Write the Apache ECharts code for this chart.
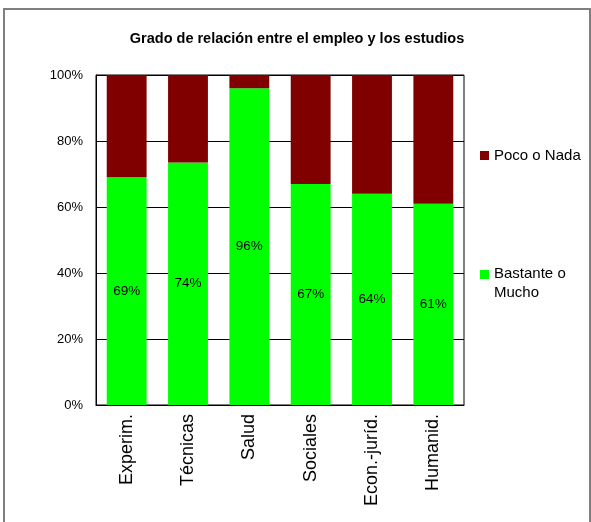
<!DOCTYPE html>
<html>
<head>
<meta charset="utf-8">
<script src="https://cdn.jsdelivr.net/npm/echarts@6/dist/echarts.min.js"></script>
<style>html,body{margin:0;padding:0;background:#fff}#c{width:591px;height:522px}</style>
</head>
<body>
<div id="c"></div>
<script>
var categories = ['Experim.', 'Técnicas', 'Salud', 'Sociales', 'Econ.-juríd.', 'Humanid.'];
var bastante = [69, 73.5, 96, 67, 64, 61];
var poco = [31, 26.5, 4, 33, 36, 39];
var yTicks = [0, 20, 40, 60, 80, 100];
var titleText = 'Grado de relación entre el empleo y los estudios';

var font = '"Liberation Sans", Arial, sans-serif';
var chart = echarts.init(document.getElementById('c'), null, {renderer: 'canvas'});
chart.setOption({
  animation: false,
  backgroundColor: '#fff',
  textStyle: {fontFamily: font},
  title: {
    text: titleText, left: 297, top: 31, textAlign: 'center', padding: 0,
    textStyle: {fontFamily: font, fontSize: 14.5, fontWeight: 'bold', color: '#000'}
  },
  graphic: [{
    type: 'rect', shape: {x: 4, y: 9, width: 586, height: 520},
    style: {fill: 'none', stroke: '#7f7f7f', lineWidth: 2}, silent: true, z: -1
  }],
  legend: [{
    data: ['Poco o Nada'], orient: 'vertical', left: 480, top: 148, padding: 0,
    itemWidth: 9, itemHeight: 9, icon: 'rect',
    textStyle: {fontFamily: font, fontSize: 15, color: '#000'}
  }, {
    data: ['Bastante o Mucho'], orient: 'vertical', left: 480, top: 264.5, padding: 0,
    itemWidth: 9, itemHeight: 27, icon: 'path://M0,0h10v10h-10z M0,30h10',
    formatter: function () { return 'Bastante o\nMucho'; },
    textStyle: {fontFamily: font, fontSize: 15, lineHeight: 19, color: '#000'}
  }],
  grid: {left: 96, top: 75, width: 368, height: 330, show: true, borderColor: '#000', borderWidth: 1, containLabel: false},
  xAxis: {
    type: 'category', data: categories,
    axisLine: {lineStyle: {color: '#000'}},
    axisTick: {show: false},
    axisLabel: {rotate: 90, fontFamily: font, fontSize: 18, color: '#000', margin: 9}
  },
  yAxis: {
    type: 'value', min: 0, max: 100, interval: 20,
    axisLine: {show: true, lineStyle: {color: '#000'}},
    axisTick: {show: false},
    splitLine: {lineStyle: {color: '#000', width: 1}},
    axisLabel: {fontFamily: font, fontSize: 13, color: '#000', margin: 13,
      formatter: function (v) { return yTicks.indexOf(v) >= 0 ? v + '%' : ''; }}
  },
  series: [{
    name: 'Bastante o Mucho', type: 'bar', stack: 't', data: bastante,
    barWidth: '65%', itemStyle: {color: '#00ff00'},
    label: {show: true, position: 'inside', fontFamily: font, fontSize: 13.5, color: '#000',
      formatter: function (p) { return Math.round(p.value) + '%'; }}
  }, {
    name: 'Poco o Nada', type: 'bar', stack: 't', data: poco,
    barWidth: '65%', itemStyle: {color: '#800000'}
  }]
});
</script>
</body>
</html>
